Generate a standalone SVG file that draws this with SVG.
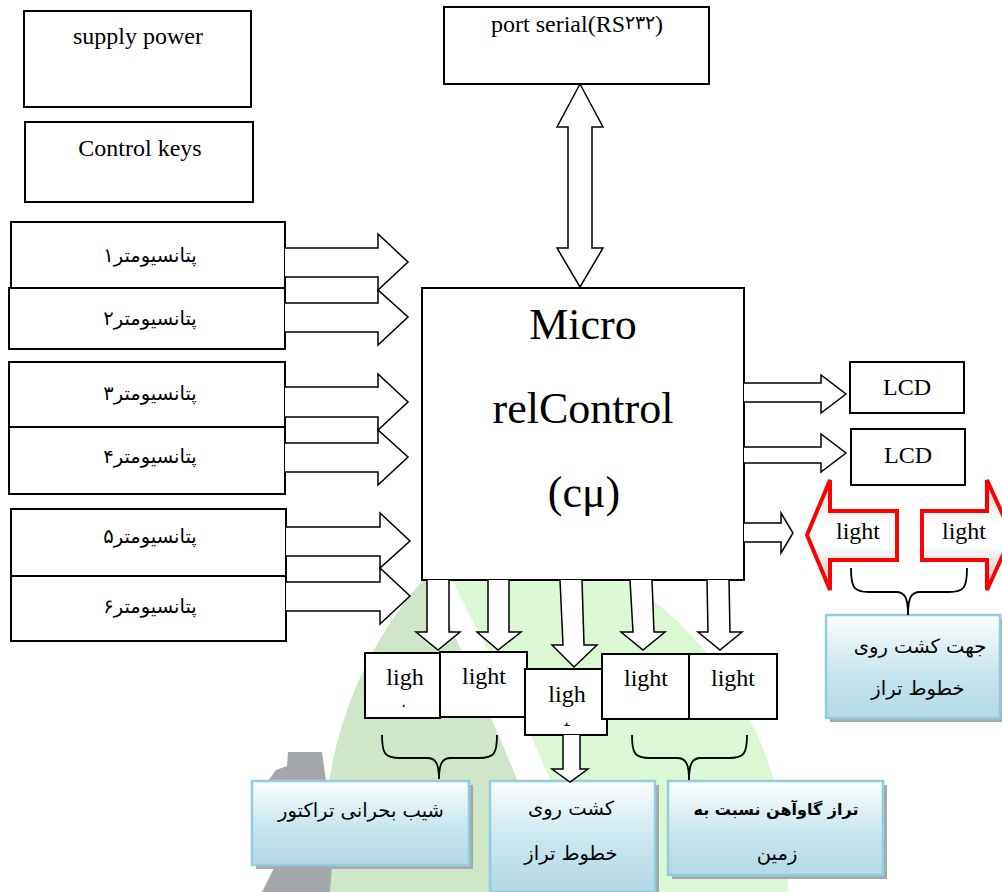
<svg xmlns="http://www.w3.org/2000/svg" width="1002" height="892" viewBox="0 0 1002 892">
<defs>
<style>
.box{fill:#fff;stroke:#000;stroke-width:2}
.arr{fill:#fff;stroke:#000;stroke-width:1.5;stroke-linejoin:miter}
.en{font-family:"Liberation Serif","Times New Roman",serif;font-size:24px;fill:#000;text-anchor:middle}
.big{font-size:44px}
.fa{font-family:"DejaVu Sans",sans-serif;font-size:19.5px;fill:#000;text-anchor:middle}
.bold{font-weight:bold;font-size:16px}
.brace{fill:none;stroke:#000;stroke-width:1.8}
.lbox{fill:url(#blueGrad);stroke:#92cddc;stroke-width:2.5}
.shadow{fill:#a3abae}
.red{fill:url(#redGrad);stroke:#ff0000;stroke-width:4;stroke-linejoin:miter}
</style>
<linearGradient id="blueGrad" x1="0" y1="0" x2="0" y2="1">
<stop offset="0" stop-color="#fbfdfe"/>
<stop offset="0.55" stop-color="#c9e6ee"/>
<stop offset="1" stop-color="#b3d9e5"/>
</linearGradient>
<linearGradient id="redGrad" x1="0" y1="0" x2="0" y2="1">
<stop offset="0" stop-color="#d8d8d8"/>
<stop offset="0.4" stop-color="#ffffff"/>
<stop offset="0.6" stop-color="#ffffff"/>
<stop offset="1" stop-color="#bdbdbd"/>
</linearGradient>
<clipPath id="clipL1"><rect x="366" y="654" width="73" height="53"/></clipPath>
<clipPath id="clipL3"><rect x="526" y="670" width="80" height="56"/></clipPath>
</defs>

<g id="watermark">
<path d="M422,581 A395,395 0 0 0 328,892 L565,892 L495,727 L430,580 Z" fill="#cfe7c8"/>
<path d="M452,580 L527,727 L600,892 L788,892 A358,358 0 0 0 625,580 Z" fill="#dcf7d3"/>
<path d="M288,752 L322,752 L326,781 L268,781 L276,770 L287,766 Z" fill="#a5a8aa"/>
<path d="M275,866 L332,866 L330,892 L262,892 Z" fill="#a5a8aa"/>
</g>

<g id="supply-power">
<rect class="box" x="24" y="11" width="227" height="96"/>
<text class="en" x="138" y="44">supply power</text>
</g>
<g id="control-keys">
<rect class="box" x="25" y="122" width="228" height="80"/>
<text class="en" x="140" y="156">Control keys</text>
</g>
<g id="port-serial">
<rect class="box" x="444" y="7" width="265" height="77"/>
<text class="en" x="577" y="32">port serial(RS<tspan font-size="19" dy="-3">۲۳۲</tspan><tspan dy="3">)</tspan></text>
</g>

<g id="pot1"><rect class="box" x="11" y="222" width="274" height="66"/><text class="fa" x="150" y="262">پتانسیومتر۱</text></g>
<g id="pot2"><rect class="box" x="9" y="288" width="276" height="61"/><text class="fa" x="150" y="325">پتانسیومتر۲</text></g>
<g id="pot3"><rect class="box" x="9" y="362" width="276" height="65"/><text class="fa" x="150" y="400">پتانسیومتر۳</text></g>
<g id="pot4"><rect class="box" x="9" y="427" width="276" height="67"/><text class="fa" x="150" y="463">پتانسیومتر۴</text></g>
<g id="pot5"><rect class="box" x="11" y="509" width="275" height="67"/><text class="fa" x="150" y="543">پتانسیومتر۵</text></g>
<g id="pot6"><rect class="box" x="11" y="576" width="275" height="65"/><text class="fa" x="150" y="613">پتانسیومتر۶</text></g>

<g id="micro">
<rect class="box" x="422" y="288" width="322" height="292"/>
<text class="en big" x="583" y="339">Micro</text>
<text class="en big" x="583" y="423">relControl</text>
<text class="en big" x="584" y="507">(cμ)</text>
</g>

<g id="lcd1"><rect class="box" x="850" y="362" width="114" height="51"/><text class="en" x="907" y="395">LCD</text></g>
<g id="lcd2"><rect class="box" x="851" y="429" width="114" height="56"/><text class="en" x="908" y="463">LCD</text></g>

<g id="light-left">
<path class="red" d="M807,535 L830,480 L830,511 L897,511 L897,560 L830,560 L830,590 Z"/>
<text class="en" x="858" y="539">light</text>
</g>
<g id="light-right">
<path class="red" d="M922,511 L987,511 L987,480 L1012,535 L987,590 L987,560 L922,560 Z"/>
<text class="en" x="964" y="539">light</text>
</g>

<g id="L1">
<rect class="box" x="365" y="653" width="75" height="65"/>
<text class="en" x="405" y="685">ligh</text>
<text class="en" x="404" y="718" clip-path="url(#clipL1)">t</text>
</g>
<g id="L2"><rect class="box" x="440" y="652" width="87" height="65"/><text class="en" x="484" y="684">light</text></g>
<g id="L3">
<rect class="box" x="525" y="669" width="82" height="66"/>
<text class="en" x="567" y="702">ligh</text>
<text class="en" x="567" y="736" clip-path="url(#clipL3)">t</text>
</g>
<g id="L4"><rect class="box" x="602" y="654" width="87" height="65"/><text class="en" x="646" y="686">light</text></g>
<g id="L5"><rect class="box" x="689" y="654" width="88" height="65"/><text class="en" x="733" y="686">light</text></g>

<g id="label-direction">
<rect class="shadow" x="830" y="619" width="174" height="103"/>
<rect class="lbox" x="826" y="615" width="174" height="103"/>
<text class="fa" x="920" y="653">جهت کشت روی</text>
<text class="fa" x="918" y="695">خطوط تراز</text>
</g>
<g id="label-slope">
<rect class="shadow" x="256" y="785" width="217" height="84"/>
<rect class="lbox" x="252" y="781" width="217" height="84"/>
<text class="fa" x="361" y="817">شیب بحرانی تراکتور</text>
</g>
<g id="label-planting">
<rect class="shadow" x="494" y="785" width="165" height="111"/>
<rect class="lbox" x="490" y="781" width="165" height="111"/>
<text class="fa" x="571" y="815">کشت روی</text>
<text class="fa" x="571" y="860">خطوط تراز</text>
</g>
<g id="label-plow">
<rect class="shadow" x="672" y="785" width="215" height="94"/>
<rect class="lbox" x="668" y="781" width="215" height="94"/>
<text class="fa bold" x="776" y="815">تراز گاوآهن نسبت به</text>
<text class="fa" x="777" y="860">زمین</text>
</g>

<g id="connectors">
<path class="arr" d="M580,84 L603,127 L592,127 L592,248 L603,248 L580,287 L557,248 L568,248 L568,127 L557,127 Z"/>
<path class="arr" d="M285,248 L378,248 L378,234 L408,262 L378,290 L378,277 L285,277"/>
<path class="arr" d="M285,303 L378,303 L378,290 L408,317 L378,345 L378,332 L285,332"/>
<path class="arr" d="M285,387 L378,387 L378,374 L408,402 L378,430 L378,417 L285,417"/>
<path class="arr" d="M285,443 L378,443 L378,430 L408,457 L378,485 L378,472 L285,472"/>
<path class="arr" d="M286,527 L380,527 L380,513 L410,541 L380,568 L380,556 L286,556"/>
<path class="arr" d="M286,582 L380,582 L380,568 L410,596 L380,624 L380,611 L286,611"/>
<path class="arr" d="M744,383 L821,383 L821,375 L846,394 L821,413 L821,402 L744,402"/>
<path class="arr" d="M744,447 L821,447 L821,434 L846,453 L821,472 L821,463 L744,463"/>
<path class="arr" d="M744,523 L781,523 L781,513 L793,533 L781,553 L781,542 L744,542"/>
<path class="arr" d="M427,580 L427,632 L416,632 L438,650 L460,632 L449,632 L449,580"/>
<path class="arr" d="M488,580 L488,632 L477,632 L498,650 L521,632 L509,632 L509,580"/>
<path class="arr" d="M560,580 L563,645 L552,645 L574,667 L597,645 L584,645 L582,580"/>
<path class="arr" d="M630,580 L633,632 L621,632 L643,650 L665,632 L654,632 L652,580"/>
<path class="arr" d="M707,580 L708,632 L698,632 L720,650 L742,632 L730,632 L729,580"/>
<path class="arr" d="M563,735 L563,769 L552,769 L570,782 L588,769 L580,769 L580,735"/>
<path class="brace" d="M382,735 C382,754 385,758 400,758 L427,758 C436,758 439,764 439,779 M439,779 C439,764 442,758 451,758 L479,758 C494,758 497,754 497,735"/>
<path class="brace" d="M632,735 C632,754 635,758 650,758 L677,758 C686,758 689,764 689,780 M689,780 C689,764 692,758 701,758 L729,758 C744,758 747,754 747,735"/>
<path class="brace" d="M851,568 C851,588 854,592 869,592 L896,592 C905,592 908,598 908,615 M908,615 C908,598 911,592 920,592 L949,592 C964,592 967,588 967,568"/>
</g>
</svg>
